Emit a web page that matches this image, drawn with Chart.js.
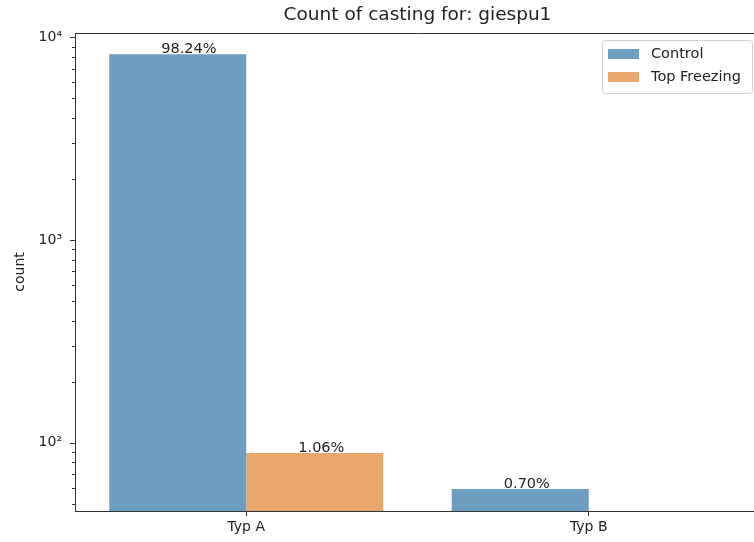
<!DOCTYPE html>
<html>
<head>
<meta charset="utf-8">
<script src="https://cdn.jsdelivr.net/npm/chart.js@4.4.1/dist/chart.umd.min.js"></script>
<style>
  html, body { margin: 0; padding: 0; background: #fff; overflow: hidden; }
  /* the figure is a little wider than the window, its right edge is cut off */
  #wrap { width: 760px; height: 542px; }
</style>
</head>
<body>
<div id="wrap"><canvas id="barChart"></canvas></div>
<script>
// Data
const categories = ['Typ A', 'Typ B'];
const seriesNames = ['Control', 'Top Freezing'];
const controlCounts = [8252, 59];
const topFreezingCounts = [89, null];

// Log axis ticks
const yMajorTicks = [100, 1000, 10000];
const yTickLabels = ['10\u00b2', '10\u00b3', '10\u2074'];
const yMinorTicks = [50, 60, 70, 80, 90, 200, 300, 400, 500, 600, 700, 800, 900,
  2000, 3000, 4000, 5000, 6000, 7000, 8000, 9000];

const colors = ['#6c9ec1', '#e8a66b'];
const textColor = '#222';
const axisColor = '#333';
const FONT = 'DejaVu Sans';

const total = [...controlCounts, ...topFreezingCounts].reduce((s, v) => s + (v || 0), 0);

// Percent labels above each bar
const percentLabels = {
  id: 'percentLabels',
  afterDatasetsDraw(chart) {
    const ctx = chart.ctx;
    ctx.save();
    ctx.font = '14.5px "' + FONT + '"';
    ctx.fillStyle = textColor;
    ctx.textAlign = 'left';
    ctx.textBaseline = 'alphabetic';
    chart.data.datasets.forEach((ds, i) => {
      chart.getDatasetMeta(i).data.forEach((bar, j) => {
        const v = ds.data[j];
        if (v == null) return;
        const left = bar.x - bar.width / 2;
        const txt = (v / total * 100).toFixed(2) + '%';
        ctx.fillText(txt, left + bar.width * 0.38, bar.y - 1);
      });
    });
    ctx.restore();
  }
};

// Top spine, log ticks (major/minor) and the legend box
const frameAndLegend = {
  id: 'frameAndLegend',
  afterDraw(chart) {
    const ctx = chart.ctx;
    const a = chart.chartArea;
    const y = chart.scales.y;
    ctx.save();
    ctx.strokeStyle = axisColor;
    ctx.lineWidth = 1;
    ctx.beginPath();
    ctx.moveTo(a.left, a.top + 0.5);
    ctx.lineTo(a.right, a.top + 0.5);
    ctx.stroke();

    yMajorTicks.concat(yMinorTicks).forEach(v => {
      const py = Math.round(y.getPixelForValue(v)) + 0.5;
      const len = yMajorTicks.includes(v) ? 5 : 3;
      ctx.beginPath();
      ctx.moveTo(a.left, py);
      ctx.lineTo(a.left - len, py);
      ctx.stroke();
    });

    // legend
    const bx = 602, by = 40, bw = 150, bh = 53;
    ctx.fillStyle = 'rgba(255,255,255,0.8)';
    ctx.strokeStyle = '#d0d0d0';
    ctx.beginPath();
    ctx.roundRect(bx + 0.5, by + 0.5, bw, bh, 3);
    ctx.fill();
    ctx.stroke();
    ctx.font = '14.5px "' + FONT + '"';
    ctx.textBaseline = 'middle';
    ctx.textAlign = 'left';
    chart.data.datasets.forEach((ds, i) => {
      const cy = by + 14 + i * 23;
      ctx.fillStyle = ds.backgroundColor;
      ctx.fillRect(608, cy - 5, 31, 10);
      ctx.fillStyle = textColor;
      ctx.fillText(ds.label, 651, cy);
    });
    ctx.restore();
  }
};

const ctx = document.getElementById('barChart').getContext('2d');

new Chart(ctx, {
  type: 'bar',
  data: {
    labels: categories,
    datasets: [
      { label: seriesNames[0], data: controlCounts, backgroundColor: colors[0] },
      { label: seriesNames[1], data: topFreezingCounts, backgroundColor: colors[1] }
    ]
  },
  options: {
    responsive: true,
    maintainAspectRatio: false,
    animation: false,
    layout: { padding: 0 },
    datasets: {
      bar: { categoryPercentage: 0.8, barPercentage: 1.0, borderWidth: 0 }
    },
    plugins: {
      legend: { display: false },
      tooltip: { enabled: false },
      title: {
        display: true,
        fullSize: false,
        text: 'Count of casting for: giespu1',
        color: textColor,
        font: { family: FONT, size: 18.5, weight: 'normal' },
        padding: { top: 4, bottom: 6.8 }
      }
    },
    scales: {
      x: {
        grid: { display: true, drawOnChartArea: false, offset: false, tickLength: 5, tickColor: axisColor },
        border: { display: true, color: axisColor, width: 1 },
        ticks: { color: textColor, font: { family: FONT, size: 14 }, padding: 3 },
        afterFit(scale) { scale.height = 31; }
      },
      y: {
        type: 'logarithmic',
        min: 46,
        max: 10520,
        afterBuildTicks(scale) {
          scale.ticks = yMajorTicks.map(v => ({ value: v, major: true }));
        },
        grid: { display: true, drawOnChartArea: false, tickLength: 5, tickColor: 'transparent' },
        border: { display: true, color: axisColor, width: 1 },
        ticks: {
          autoSkip: false,
          color: textColor,
          font: { family: FONT, size: 14 },
          padding: 8,
          callback(value) {
            const i = yMajorTicks.indexOf(value);
            return i >= 0 ? yTickLabels[i] : '';
          }
        },
        title: {
          display: true,
          text: 'count',
          color: textColor,
          font: { family: FONT, size: 14 },
          padding: { top: 12, bottom: 0 }
        },
        afterFit(scale) { scale.width = 75; }
      }
    }
  },
  plugins: [percentLabels, frameAndLegend]
});
</script>
</body>
</html>
